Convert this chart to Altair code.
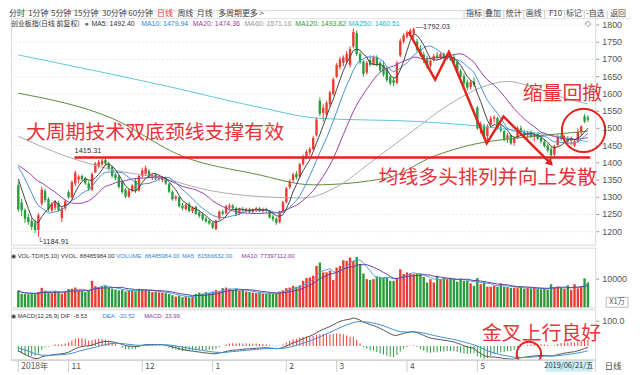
import altair as alt
import pandas as pd
import numpy as np

CJK = "Noto Sans CJK SC"
LAT = "Liberation Sans"
UP = "#ec3b30"
DOWN = "#2a9b3c"
ANN = "#e8333a"
ANN_LINE = "#e3221c"

# ---------------- data (ChiNext daily, 2018-10-11 .. 2019-06-21) ----------------
open_ = [1335,1285,1262,1242,1232,1226,1205,1282,1318,1295,
         1262,1270,1284,1240,1268,1315,1300,1340,1352,1362,
         1355,1340,1322,1372,1390,1396,1408,1398,1388,1366,
         1360,1345,1322,1302,1318,1348,1320,1362,1368,1376,
         1356,1366,1354,1350,1356,1338,1316,1296,1300,1276,
         1266,1280,1260,1272,1256,1250,1238,1232,1226,1208,
         1238,1258,1254,1270,1276,1268,1252,1266,1260,1266,
         1258,1262,1268,1260,1266,1260,1244,1238,1228,1260,
         1286,1330,1350,1368,1360,1396,1416,1430,1440,1480,
         1580,1545,1540,1570,1600,1650,1678,1690,1694,1684,
         1738,1776,1716,1694,1662,1698,1686,1706,1690,1684,
         1672,1650,1640,1632,1712,1752,1766,1774,1776,1752,
         1730,1714,1700,1682,1700,1712,1704,1716,1702,1712,
         1706,1692,1666,1652,1634,1620,1636,1560,1500,1508,
         1478,1512,1528,1530,1502,1492,1470,1480,1458,1474,
         1500,1490,1480,1488,1476,1484,1472,1462,1450,1440,
         1424,1452,1478,1470,1472,1464,1450,1462,1488,1535,1532]
high = [1345,1295,1268,1252,1240,1236,1255,1330,1325,1300,
        1285,1292,1290,1272,1292,1320,1348,1378,1365,1366,
        1360,1346,1372,1402,1408,1412,1415.31,1404,1392,1370,
        1365,1348,1326,1325,1338,1356,1368,1386,1392,1382,
        1368,1370,1362,1362,1360,1342,1320,1306,1304,1284,
        1282,1286,1274,1276,1262,1256,1244,1238,1230,1235,
        1262,1264,1278,1282,1280,1272,1270,1272,1270,1270,
        1268,1272,1272,1270,1270,1262,1250,1242,1262,1290,
        1330,1352,1372,1376,1400,1424,1438,1446,1478,1532,
        1590,1570,1580,1610,1648,1690,1708,1712,1724,1738,
        1790,1784,1722,1698,1696,1712,1712,1712,1696,1696,
        1678,1654,1648,1696,1760,1776,1784,1790,1792.03,1760,
        1742,1722,1710,1700,1716,1722,1720,1720,1718,1718,
        1716,1700,1672,1660,1642,1640,1648,1565,1520,1514,
        1512,1536,1538,1534,1514,1496,1486,1484,1476,1506,
        1508,1496,1492,1494,1488,1490,1478,1468,1456,1446,
        1452,1482,1486,1480,1478,1476,1468,1500,1510,1542,1538]
low = [1258,1245,1225,1220,1205,1196,1184.91,1275,1285,1258,
       1255,1262,1258,1228,1262,1296,1296,1332,1340,1348,
       1336,1318,1318,1370,1384,1390,1392,1378,1356,1350,
       1325,1310,1298,1298,1314,1312,1316,1356,1362,1356,
       1350,1350,1348,1344,1336,1312,1290,1290,1270,1262,
       1262,1256,1254,1248,1240,1232,1226,1220,1208,1204,
       1234,1248,1250,1262,1264,1246,1248,1256,1256,1254,
       1252,1258,1256,1254,1256,1238,1230,1220,1224,1256,
       1282,1324,1344,1352,1356,1392,1410,1422,1436,1476,
       1535,1520,1532,1562,1596,1646,1670,1680,1688,1676,
       1732,1710,1686,1650,1656,1680,1682,1680,1662,1650,
       1634,1624,1622,1628,1706,1746,1760,1768,1762,1722,
       1708,1690,1672,1676,1694,1700,1700,1700,1698,1696,
       1684,1660,1644,1622,1610,1612,1620,1496,1484,1470,
       1462,1502,1516,1496,1488,1462,1458,1452,1450,1470,
       1486,1476,1470,1472,1462,1466,1456,1444,1430,1414,
       1416,1448,1464,1458,1456,1452,1446,1458,1480,1515,1518]
close = [1265,1262,1238,1228,1214,1205,1248,1322,1292,1266,
         1280,1286,1263,1268,1288,1300,1344,1372,1360,1352,
         1340,1325,1368,1398,1402,1406,1398,1382,1362,1355,
         1330,1315,1302,1320,1334,1318,1362,1378,1384,1360,
         1364,1354,1358,1358,1340,1316,1294,1302,1274,1268,
         1278,1260,1270,1252,1246,1236,1230,1224,1212,1232,
         1258,1252,1274,1276,1268,1250,1266,1262,1266,1258,
         1264,1268,1260,1266,1262,1242,1236,1226,1258,1286,
         1326,1346,1366,1358,1396,1418,1432,1440,1472,1526,
         1542,1560,1574,1604,1642,1684,1700,1706,1716,1730,
         1780,1716,1692,1658,1690,1684,1706,1684,1668,1656,
         1640,1630,1632,1690,1754,1770,1778,1784,1788,1728,
         1712,1698,1680,1696,1710,1706,1716,1704,1712,1700,
         1690,1664,1650,1630,1618,1634,1626,1500,1512,1476,
         1506,1528,1532,1500,1494,1468,1480,1456,1472,1500,
         1490,1480,1486,1476,1482,1470,1462,1448,1436,1422,
         1448,1478,1470,1474,1462,1470,1462,1490,1505,1520,1525]
# volume in units of 1e4 (万)
volume = [5900,4800,4700,4600,4900,4700,5400,6900,5900,5200,5000,5800,5500,4800,5700,
          6500,6600,7000,6000,5800,5400,5800,9400,7500,7200,7400,7600,6900,6600,6300,6000,6200,5600,5900,6100,5700,6600,
          6500,6200,5800,5400,5600,5300,5200,5000,4700,4300,3800,4200,3600,3900,3500,4000,4700,5200,4900,5400,5100,
          5600,6100,5800,6800,7000,6600,6200,6500,5900,6100,5600,5400,5200,5000,5300,4900,4800,5100,4700,5000,5600,6000,
          6800,7000,7600,7300,7800,9400,10400,10600,11200,14700,15900,12400,12400,13000,9700,
          14100,14700,16700,16500,17700,16500,17900,15300,12000,10000,9700,10000,11000,10800,10600,10600,9400,9400,10200,13500,11800,
          12400,12000,11800,11800,11800,10800,8800,10000,8800,11200,10000,10400,10000,10200,10000,9100,10200,9400,9400,8500,7650,
          10400,8200,8800,7300,7300,7650,7300,8500,7300,7200,6900,7000,6800,7300,6600,6900,6700,7000,6600,6400,
          6600,6300,8200,7200,7400,6800,6500,7800,6200,8200,6700,7500,10300,8850]
# closes before the window, only used to warm up the indicators
pre_close = [1460,1452,1440,1445,1432,1418,1425,1436,1442,1430,
             1418,1405,1412,1420,1408,1396,1388,1380,1392,1404,
             1398,1385,1378,1370,1382,1395,1408,1415,1420,1412,
             1405,1418,1425,1430,1422,1415,1408,1385,1362,1345]

# long moving averages (bar index, value)
ma60_idx = [0,14,28,43,57,72,85,95,105,116,130,140,146,155,163,170]
ma60_val = [1477,1420,1380,1355,1320,1302,1298,1330,1400,1480,1578,1625,1636,1615,1588,1571]
ma120_idx = [0,28,49,71,88,110,124,136,148,157,170]
ma120_val = [1602,1529,1419,1367,1336,1356,1419,1454,1471,1480,1492]
ma250_idx = [0,45,71,90,119,138,157,170]
ma250_val = [1713,1621,1563,1529,1520,1506,1483,1461]

price_ticks = [1200,1250,1300,1350,1400,1450,1500,1550,1600,1650,1700,1750,1800]
vol_ticks = [10000]
macd_ticks = [100]
month_ticks = [0, 15, 37, 58, 80, 95, 116, 137]
month_labels = ["2018年", "11", "12", "1", "2", "3", "4", "5"]

tab_names = ["分时","1分钟","5分钟","15分钟","30分钟","60分钟","日线","周线","月线","多周期","更多 >"]
btn_names = ["指标","叠加","统计","画线","F10","标记","-自选","返回"]

# annotation geometry (bar index, price)
zig_idx = [116.5, 124.4, 128.5, 139.8, 144.8, 158.8]
zig_val = [1779.6, 1641.2, 1721.9, 1456.6, 1534.5, 1399.0]
neck = 1415.31

# ---------------- derived indicators ----------------
n = len(close)
for arr in (open_, high, low, volume):
    assert len(arr) == n
full = pd.Series(pre_close + close, dtype=float)
ma5 = full.rolling(5).mean().iloc[-n:].to_numpy()
ma10 = full.rolling(10).mean().iloc[-n:].to_numpy()
ma20 = full.rolling(20).mean().iloc[-n:].to_numpy()
ema12 = full.ewm(span=12, adjust=False).mean()
ema26 = full.ewm(span=26, adjust=False).mean()
dif_s = ema12 - ema26
dea_s = dif_s.ewm(span=9, adjust=False).mean()
hist_s = 2 * (dif_s - dea_s)
vol_s = pd.Series(volume, dtype=float)

df = pd.DataFrame({
    "i": list(range(n)), "o": open_, "h": high, "l": low, "c": close,
    "vol": volume,
    "ma5": ma5, "ma10": ma10, "ma20": ma20,
    "vma5": vol_s.rolling(5, min_periods=1).mean(),
    "vma10": vol_s.rolling(10, min_periods=1).mean(),
    "dif": dif_s.iloc[-n:].to_numpy(), "dea": dea_s.iloc[-n:].to_numpy(),
    "macd": hist_s.iloc[-n:].to_numpy(),
})
df["dir"] = np.where(df["c"] >= df["o"], "up", "down")
df["mdir"] = np.where(df["macd"] >= 0, "up", "down")

W = 588
HP, HV, HM = 236, 60, 51
xs = alt.Scale(domain=[-0.7, 170.7], nice=False, zero=False)
X = alt.X("i:Q", scale=xs, axis=None)
col = alt.Color("dir:N", scale=alt.Scale(domain=["up", "down"], range=[UP, DOWN]), legend=None)
mcol = alt.Color("mdir:N", scale=alt.Scale(domain=["up", "down"], range=[UP, DOWN]), legend=None)
ys_p = alt.Scale(domain=[1162.5, 1843], nice=False, zero=False)
ys_v = alt.Scale(domain=[0, 21200], nice=False, zero=False)
ys_m = alt.Scale(domain=[-56, 148], nice=False, zero=False)

one = pd.DataFrame({"k": [0]})


def txt(s, x, y, size=8, color="#333", font=CJK, align="left"):
    return alt.Chart(one).mark_text(align=align, baseline="middle", fontSize=size,
                                    font=font, color=color).encode(
        x=alt.value(x), y=alt.value(y), text=alt.value(s))


def hline(x1, x2, y, color="#d8d8d8", w=1):
    return alt.Chart(one).mark_rule(color=color, strokeWidth=w).encode(
        x=alt.value(x1), x2=alt.value(x2), y=alt.value(y))


def vline(x, y1, y2, color="#d8d8d8", w=1):
    return alt.Chart(one).mark_rule(color=color, strokeWidth=w).encode(
        x=alt.value(x), y=alt.value(y1), y2=alt.value(y2))


def right_axis(ticks, scale, fmt, grid=False):
    """Right-hand value axis drawn from the tick list through the panel's y scale."""
    t = pd.DataFrame({"v": ticks})
    Y = alt.Y("v:Q", scale=scale, axis=None)
    layers = []
    if grid:
        layers.append(alt.Chart(t).mark_rule(color="#e9e9e9", strokeDash=[2, 2]).encode(
            y=Y, x=alt.value(0), x2=alt.value(W)))
    layers.append(alt.Chart(t).mark_rule(color="#999999").encode(
        y=Y, x=alt.value(W + 1), x2=alt.value(W + 4)))
    layers.append(alt.Chart(t).mark_text(align="left", baseline="middle", fontSize=9,
                                         font=LAT, color="#555").encode(
        y=Y, x=alt.value(W + 7), text=alt.Text("v:Q", format=fmt)))
    return layers


def sparse_line(idx, val, color):
    d = pd.DataFrame({"i": idx, "v": val})
    return alt.Chart(d).mark_line(color=color, strokeWidth=1, interpolate="monotone").encode(
        x=X, y=alt.Y("v:Q", scale=ys_p, axis=None))


base = alt.Chart(df)

# ---------------- price panel ----------------
p_axis = right_axis(price_ticks, ys_p, "d", grid=True)
wick = base.mark_rule(strokeWidth=1).encode(
    x=X, y=alt.Y("l:Q", scale=ys_p, axis=None), y2="h:Q", color=col)
body = base.mark_bar(width=2.4).encode(
    x=X, y=alt.Y("o:Q", scale=ys_p, axis=None), y2="c:Q", color=col)


def ma_line(field, color):
    return base.mark_line(color=color, strokeWidth=1).encode(
        x=X, y=alt.Y(f"{field}:Q", scale=ys_p, axis=None))


neck_df = pd.DataFrame({"a": [16.8], "b": [170.7], "v": [neck]})
neckline = alt.Chart(neck_df).mark_rule(color=ANN_LINE, strokeWidth=2.5).encode(
    x=alt.X("a:Q", scale=xs, axis=None), x2="b:Q", y=alt.Y("v:Q", scale=ys_p, axis=None))
neck_lab = alt.Chart(neck_df).mark_text(align="left", baseline="middle", fontSize=7.5,
                                        font=LAT, color="#333", dy=-7).encode(
    x=alt.X("a:Q", scale=xs, axis=None), y=alt.Y("v:Q", scale=ys_p, axis=None),
    text=alt.value("1415.31"))

zig_df = pd.DataFrame({"i": zig_idx, "v": zig_val, "ord": list(range(len(zig_idx)))})
zig = alt.Chart(zig_df).mark_line(color=ANN_LINE, strokeWidth=2.5).encode(
    x=X, y=alt.Y("v:Q", scale=ys_p, axis=None), order="ord:Q")
arrow = alt.Chart(zig_df.tail(1)).mark_point(shape="triangle-up", angle=135, size=70,
                                             filled=True, color=ANN_LINE, opacity=1).encode(
    x=X, y=alt.Y("v:Q", scale=ys_p, axis=None))
circ_df = pd.DataFrame({"i": [168.7], "v": [1494]})
circle = alt.Chart(circ_df).mark_point(shape="circle", size=1900, filled=False,
                                       color=ANN_LINE, strokeWidth=2, opacity=1).encode(
    x=X, y=alt.Y("v:Q", scale=ys_p, axis=None))

hi_df = pd.DataFrame({"i": [118], "v": [1792.03]})
hi_lab = alt.Chart(hi_df).mark_text(align="left", baseline="middle", fontSize=7.5, font=LAT,
                                    color="#333", dx=2, dy=-1).encode(
    x=X, y=alt.Y("v:Q", scale=ys_p, axis=None), text=alt.value("—1792.03"))
lo_df = pd.DataFrame({"i": [6], "v": [1184.91]})
lo_lab = alt.Chart(lo_df).mark_text(align="left", baseline="middle", fontSize=7.5, font=LAT,
                                    color="#333", dx=-1, dy=5).encode(
    x=X, y=alt.Y("v:Q", scale=ys_p, axis=None), text=alt.value("└1184.91"))

tab_centers = [8, 29.5, 52.5, 77.5, 106, 132.5, 157, 177.5, 197, 222.5, 245.5]
header = [hline(0, 624, 8.5, "#e2e2e2")]
for name, cx in zip(tab_names, tab_centers):
    header.append(txt(name, cx - 2, 4, 8, ANN if name == "日线" else "#444", CJK, "center"))
btn_centers = [482, 501, 522, 542, 564, 582.5, 604, 627]
for name, cx in zip(btn_names, btn_centers):
    header.append(txt(name, cx - 16, 4, 8, "#444", CJK, "center"))
for sx in [472, 492, 512, 532, 553, 573, 593, 616]:
    header.append(vline(sx - 16, 0, 8.5, "#d0d0d0"))
row2 = [("创业板指(日线 前复权)", 0, "#333", CJK), ("●", 74, "#666", LAT),
        ("MA5: 1492.40", 81, "#333", LAT), ("MA10: 1479.94", 131, "#2f86d8", LAT),
        ("MA20: 1474.36", 183, "#a23ea0", LAT), ("MA60: 1571.16", 235, "#9a9a9a", LAT),
        ("MA120: 1493.82", 286, "#2e9a3a", LAT), ("MA250: 1460.51", 340, "#27b6c9", LAT)]
for s, x, c, f in row2:
    header.append(txt(s, x, 13.5, 7, c, f))
header.append(txt("◇", 578, 13.5, 8, "#666", LAT))

ann_p = [
    txt("大周期技术双底颈线支撑有效", 15, 124, 20, ANN),
    txt("均线多头排列并向上发散", 370, 169, 20, ANN),
    txt("缩量回撤", 515, 84, 20, ANN),
]

price = alt.layer(
    p_axis[0], wick, body,
    sparse_line(ma250_idx, ma250_val, "#5cc8d6"),
    sparse_line(ma120_idx, ma120_val, "#5d8c3a"),
    sparse_line(ma60_idx, ma60_val, "#ababab"),
    ma_line("ma20", "#9b3fa6"), ma_line("ma10", "#4a90d9"), ma_line("ma5", "#444444"),
    neckline, neck_lab, zig, arrow, circle, hi_lab, lo_lab,
    *p_axis[1:], *ann_p, *header,
).properties(width=W, height=HP)

# ---------------- volume panel ----------------
vbars = base.mark_bar(width=2.4).encode(
    x=X, y=alt.Y("vol:Q", scale=ys_v, axis=None), color=col)
vma5 = base.mark_line(color="#4aa3df", strokeWidth=1).encode(
    x=X, y=alt.Y("vma5:Q", scale=ys_v, axis=None))
vma10 = base.mark_line(color="#6a3a9a", strokeWidth=1).encode(
    x=X, y=alt.Y("vma10:Q", scale=ys_v, axis=None))
vol_head = [
    txt("◉ VOL-TDX(5,10) VVOL: 88485984.00", 0, 8, 6, "#333", LAT),
    txt("VOLUME: 88485984.00", 106, 8, 6, "#2f86d8", LAT),
    txt("MA5: 81566632.00", 172, 8, 6, "#2f86d8", LAT),
    txt("MA10: 77397112.00", 232, 8, 6, "#8a3aa0", LAT),
]
box = alt.Chart(one).mark_rect(fill="white", stroke="#bbbbbb", strokeWidth=1).encode(
    x=alt.value(599), x2=alt.value(621), y=alt.value(50), y2=alt.value(60))
volp = alt.layer(vbars, vma5, vma10, *right_axis(vol_ticks, ys_v, "d"), *vol_head, box,
                 txt("X1万", 610, 55, 7.5, "#555", CJK, "center")).properties(width=W, height=HV)

# ---------------- MACD panel ----------------
hbars = base.mark_bar(width=1, clip=True).encode(
    x=X, y=alt.Y("macd:Q", scale=ys_m, axis=None), color=mcol)
difl = base.mark_line(color="#555555", strokeWidth=1, clip=True).encode(
    x=X, y=alt.Y("dif:Q", scale=ys_m, axis=None))
deal = base.mark_line(color="#3d8fdc", strokeWidth=1, clip=True).encode(
    x=X, y=alt.Y("dea:Q", scale=ys_m, axis=None))
mcirc_df = pd.DataFrame({"i": [152.4], "v": [-32]})
mcirc = alt.Chart(mcirc_df).mark_point(shape="circle", size=600, filled=False, color=ANN_LINE,
                                       strokeWidth=2, opacity=1, clip=True).encode(
    x=X, y=alt.Y("v:Q", scale=ys_m, axis=None))
macd_head = [
    txt("◉ MACD(12,26,9) DIF: -8.53", 0, 7, 6, "#333", LAT),
    txt("DEA: -20.52", 92, 7, 6, "#2f86d8", LAT),
    txt("MACD: 23.99", 134, 7, 6, "#8a3aa0", LAT),
]
mdf = pd.DataFrame({"i": month_ticks, "lab": month_labels})
month_tick = alt.Chart(mdf).mark_rule(color="#cccccc").encode(
    x=X, y=alt.value(HM), y2=alt.value(HM + 12))
month_text = alt.Chart(mdf).mark_text(align="left", baseline="middle", fontSize=8.5, font=CJK,
                                      color="#555", dx=3).encode(
    x=X, y=alt.value(HM + 6.5), text="lab:N")
datebox = alt.Chart(one).mark_rect(fill="#c9eef4").encode(
    x=alt.value(538), x2=alt.value(585), y=alt.value(52), y2=alt.value(63))
macdp = alt.layer(
    hbars, difl, deal, mcirc, *right_axis(macd_ticks, ys_m, ".1f"), *macd_head,
    txt("金叉上行良好", 474, 25, 20, ANN),
    month_tick, month_text, hline(0, W, HM, "#cccccc"),
    datebox, txt("2019/06/21/五", 561.5, 57.5, 7.5, "#333", CJK, "center"),
    vline(W, HM, HM + 12, "#cccccc"),
    txt("日线", 606, 57.5, 8.5, "#444", CJK, "center"),
).properties(width=W, height=HM)

chart = alt.vconcat(price, volp, macdp, spacing=0).properties(
    padding=0, background="white"
).configure_view(stroke="#d8d8d8")

chart.save("out.html", embed_options={"renderer": "svg", "actions": False})
